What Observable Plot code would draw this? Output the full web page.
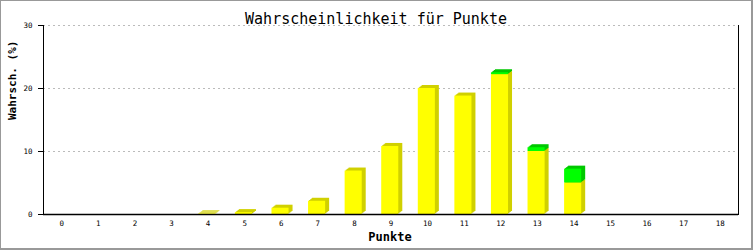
<!DOCTYPE html>
<html>
<head>
<meta charset="utf-8">
<script src="https://cdn.jsdelivr.net/npm/d3@7"></script>
<script src="https://cdn.jsdelivr.net/npm/@observablehq/plot@0.6"></script>
<style>
  html, body { margin: 0; padding: 0; background: #fff; }
  #wrap { position: relative; width: 753px; height: 250px; overflow: hidden; }
  #wrap svg { position: absolute; left: 0; top: 0; }
  #border { position: absolute; left: 0; top: 0; width: 753px; height: 250px; box-sizing: border-box;
    border-top: 1px solid #999; border-left: 1px solid #999; border-right: 2px solid #999; border-bottom: 2px solid #999; pointer-events: none; }
</style>
</head>
<body>
<div id="wrap"><div id="border"></div></div>
<script>
const title = "Wahrscheinlichkeit für Punkte";
const xLabel = "Punkte";
const yLabel = "Wahrsch. (%)";
const points = [0,1,2,3,4,5,6,7,8,9,10,11,12,13,14,15,16,17,18];
const yellowValues = [0,0,0,0,0.1,0.3,1.0,2.1,6.9,10.8,20.0,18.8,22.2,10.0,5.0,0,0,0,0];
const greenValues  = [0,0,0,0,0,0,0,0,0,0,0,0,0.3,0.6,2.2,0,0,0,0];
const yTicks = [0,10,20,30];
const gridTicks = [10,20,30];

const yellowRows = points.map((p,i)=>({p, y1:0, y2:yellowValues[i]})).filter(d=>d.y2>0);
const greenRows = points.map((p,i)=>({p, y1:yellowValues[i], y2:yellowValues[i]+greenValues[i], g:greenValues[i]})).filter(d=>d.g>0);

const inset = {insetLeft: 9, insetRight: 10.5};
const offsets = [1,2,3,4];
const shadow = (rows, fill) => offsets.map(i => Plot.barY(rows, {x:"p", y1:"y1", y2:"y2", fill, dx:i, dy:-i*0.75, ...inset}));

const chart = Plot.plot({
  width: 753,
  height: 250,
  marginLeft: 43,
  marginRight: 15,
  marginTop: 25,
  marginBottom: 36,
  style: {fontFamily: "'DejaVu Sans Mono', monospace", fontSize: "7.5px", color: "#000", background: "transparent"},
  x: {type: "band", domain: points, padding: 0, round: false, label: null},
  y: {domain: [0,30], label: null},
  marks: [
    Plot.ruleY(gridTicks, {stroke: "#bbb", strokeDasharray: "2,3", strokeWidth: 1}),
    ...shadow(yellowRows, "#d0d000"),
    ...shadow(greenRows, "#00c800"),
    Plot.barY(yellowRows, {x:"p", y1:"y1", y2:"y2", fill:"#ffff00", ...inset}),
    Plot.barY(greenRows, {x:"p", y1:"y1", y2:"y2", fill:"#00ff00", ...inset}),
    Plot.frame({anchor: "left", stroke: "#000"}),
    Plot.frame({anchor: "right", stroke: "#000"}),
    Plot.ruleY([0], {stroke: "#000", strokeWidth: 1.5}),
    Plot.axisY({ticks: yTicks, tickSize: 5, tickPadding: 6, label: null, tickFormat: d => String(d)}),
    Plot.axisX({tickSize: 0, tickPadding: 6, label: null}),
    Plot.text([title], {frameAnchor: "top", dy: -12, dx: -15, text: d => d, fontSize: 15, fontFamily: "'DejaVu Sans Mono', monospace"}),
    Plot.text([xLabel], {frameAnchor: "bottom", dy: 26, dx: -1, text: d => d, fontSize: 12, fontWeight: "bold"}),
    Plot.text([yLabel], {frameAnchor: "left", dx: -31, rotate: -90, text: d => d, fontSize: 11, fontWeight: "bold"})
  ]
});
document.getElementById("wrap").insertBefore(chart, document.getElementById("border"));
</script>
</body>
</html>
